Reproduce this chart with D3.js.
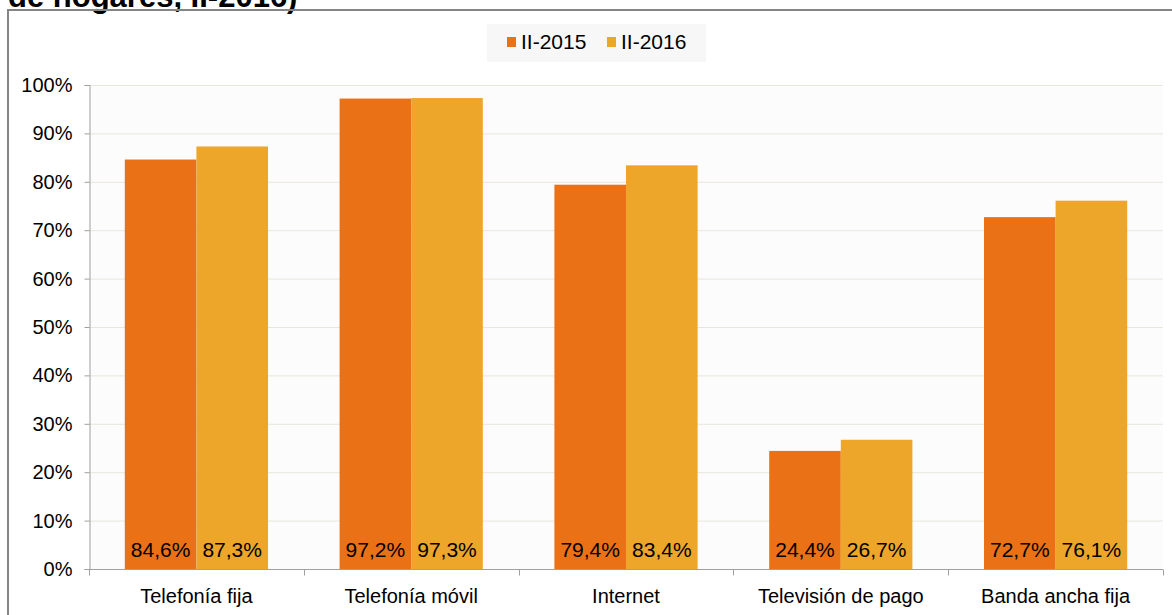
<!DOCTYPE html>
<html>
<head>
<meta charset="utf-8">
<script src="https://cdn.jsdelivr.net/npm/d3@7"></script>
<style>
  body { margin: 0; background: #fff; }
  svg { display: block; font-family: "Liberation Sans", Arial, sans-serif; }
</style>
</head>
<body>
<svg id="chart" width="1172" height="615"></svg>
<script>
// data
const categories = ['Telefonía fija', 'Telefonía móvil', 'Internet', 'Televisión de pago', 'Banda ancha fija'];
const seriesNames = ['II-2015', 'II-2016'];
const values2015 = [84.6, 97.2, 79.4, 24.4, 72.7];
const values2016 = [87.3, 97.3, 83.4, 26.7, 76.1];
const yTicks = [0, 10, 20, 30, 40, 50, 60, 70, 80, 90, 100];
const colors = ['#eb7116', '#eda52a'];

const svg = d3.select('#chart');
const margin = { top: 85, right: 9, bottom: 46, left: 89 };
const W = 1172, H = 615;
const cW = W - margin.left - margin.right;
const cH = H - margin.top - margin.bottom;

// title (cut off at the top like the source)
svg.append('text')
  .attr('x', 8).attr('y', 7)
  .attr('font-size', 31).attr('font-weight', 'bold')
  .attr('fill', '#000')
  .text('de hogares, II-2016)');

// outer frame
svg.append('rect')
  .attr('x', 8).attr('y', 10).attr('width', 1170).attr('height', 620)
  .attr('fill', 'none').attr('stroke', '#858585').attr('stroke-width', 2);

const g = svg.append('g').attr('transform', `translate(${margin.left},${margin.top})`);

const x0 = d3.scaleBand().domain(categories).range([0, cW]).paddingInner(0).paddingOuter(0);
const x1 = d3.scaleBand().domain(seriesNames).range([0, x0.bandwidth()]).paddingOuter(0.5).paddingInner(0);
const y = d3.scaleLinear().domain([0, 100]).range([cH, 0]);

g.append('rect').attr('width', cW).attr('height', cH).attr('fill', '#fcfcfc');

// grid
g.append('g').selectAll('line').data(yTicks.filter(d => d > 0)).join('line')
  .attr('x1', 0).attr('x2', cW)
  .attr('y1', d => y(d) + 0.5).attr('y2', d => y(d) + 0.5)
  .attr('stroke', '#e9e7da').attr('stroke-width', 1);

// bars
const rows = categories.map((c, i) => ({ cat: c, vals: [values2015[i], values2016[i]] }));
const grp = g.append('g').selectAll('g').data(rows).join('g')
  .attr('transform', d => `translate(${x0(d.cat)},0)`);
grp.selectAll('rect').data(d => d.vals.map((v, k) => ({ v, k }))).join('rect')
  .attr('x', d => x1(seriesNames[d.k]))
  .attr('width', x1.bandwidth())
  .attr('y', d => y(d.v))
  .attr('height', d => cH - y(d.v))
  .attr('fill', d => colors[d.k]);
grp.selectAll('text').data(d => d.vals.map((v, k) => ({ v, k }))).join('text')
  .attr('x', d => x1(seriesNames[d.k]) + x1.bandwidth() / 2)
  .attr('y', cH - 12)
  .attr('text-anchor', 'middle')
  .attr('font-size', 21).attr('fill', '#000')
  .text(d => d.v.toFixed(1).replace('.', ',') + '%');

// y axis
const yAxis = g.append('g').attr('transform', 'translate(0.5,0)')
  .call(d3.axisLeft(y).tickValues(yTicks).tickSize(5).tickFormat(d => d + '%'));
yAxis.select('.domain').attr('stroke', '#a0a0a0');
yAxis.selectAll('.tick line').attr('stroke', '#a0a0a0');
yAxis.selectAll('.tick text').attr('font-size', 20).attr('fill', '#000').attr('x', -17)
  .attr('font-family', '"Liberation Sans", Arial, sans-serif');

// x axis with ticks at category boundaries
const xAxis = g.append('g').attr('transform', `translate(0,${cH + 0.5})`);
xAxis.append('line').attr('x1', 0).attr('x2', cW).attr('stroke', '#a0a0a0');
const bounds = categories.map(c => x0(c)).concat([cW]);
xAxis.selectAll('line.tk').data(bounds).join('line').attr('class', 'tk')
  .attr('x1', d => Math.round(d) + 0.5).attr('x2', d => Math.round(d) + 0.5)
  .attr('y1', 0).attr('y2', 6).attr('stroke', '#a0a0a0');
xAxis.selectAll('text').data(categories).join('text')
  .attr('x', d => x0(d) + x0.bandwidth() / 2)
  .attr('y', 33)
  .attr('text-anchor', 'middle')
  .attr('font-size', 20).attr('fill', '#000')
  .text(d => d);

// legend
const leg = svg.append('g');
leg.append('rect').attr('x', 487).attr('y', 24).attr('width', 219).attr('height', 38).attr('fill', '#f7f7f7');
const li = leg.selectAll('g').data(seriesNames).join('g')
  .attr('transform', (d, i) => `translate(${507 + i * 100},0)`);
li.append('rect').attr('x', 0).attr('y', 37).attr('width', 9).attr('height', 10)
  .attr('fill', (d, i) => colors[i]);
li.append('text').attr('x', 14).attr('y', 49).attr('font-size', 21).attr('fill', '#000').text(d => d);
</script>
</body>
</html>
